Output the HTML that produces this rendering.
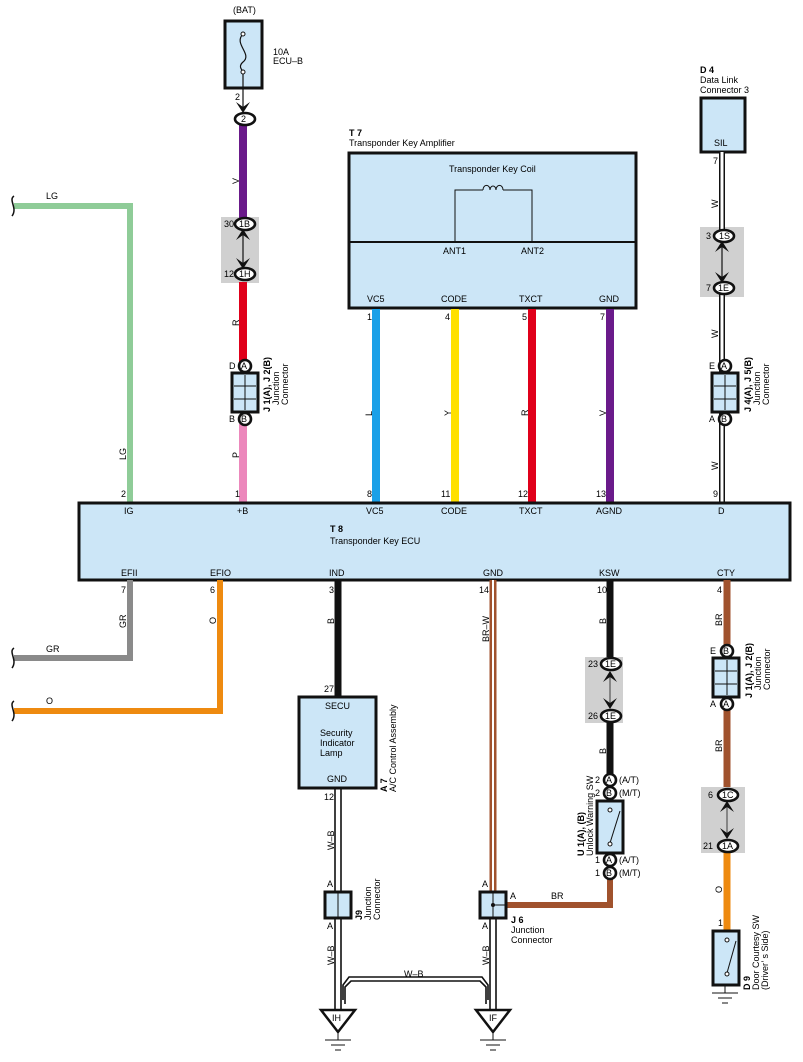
<!DOCTYPE html>
<html><head><meta charset="utf-8"><style>
html,body{margin:0;padding:0;background:#fff}
svg{display:block;font-family:"Liberation Sans",sans-serif;font-size:9px}
.b{fill:#cce6f7;stroke:#111;stroke-width:3}
.o{fill:#fff;stroke:#111;stroke-width:2.6}
.g{fill:#d0d0d0}
</style></head><body>
<svg width="803" height="1062" viewBox="0 0 803 1062">
<rect class="g" x="221" y="217" width="38" height="66"/>
<rect class="g" x="700" y="227" width="44" height="70"/>
<rect class="g" x="585" y="657" width="38" height="66"/>
<rect class="g" x="701" y="787" width="44" height="66"/>

<text x="233" y="13">(BAT)</text>
<rect class="b" x="225" y="21" width="37" height="67"/>
<path d="M243 34 C233 44 253 54 243 62 C236 68 246 72 243 74" fill="none" stroke="#111" stroke-width="1.2"/>
<circle cx="243" cy="34" r="2" fill="#fff" stroke="#111"/><circle cx="243" cy="72" r="2" fill="#fff" stroke="#111"/>
<text x="273" y="55">10A</text><text x="273" y="64">ECU–B</text>
<line x1="243" y1="74" x2="243" y2="110" stroke="#111" stroke-width="1.2"/>
<text x="235" y="100">2</text>
<path d="M236 102 L243 113 L250 102 L243 107Z" fill="#111"/>

<line x1="243" y1="125" x2="243" y2="218" stroke="#6a1a8a" stroke-width="8"/>
<line x1="243" y1="282" x2="243" y2="362" stroke="#e0001a" stroke-width="8"/>
<line x1="243" y1="424" x2="243" y2="502" stroke="#ec88bc" stroke-width="8"/>
<line x1="243" y1="230" x2="243" y2="268" stroke="#111" stroke-width="1.2"/>
<path d="M236 240 L243 229 L250 240 L243 235Z M236 258 L243 269 L250 258 L243 263Z" fill="#111"/>
<ellipse class="o" cx="245" cy="119" rx="10" ry="6"/><text x="241" y="122">2</text>
<ellipse class="o" cx="245" cy="224" rx="10" ry="6"/><text x="239" y="227">1B</text><text x="224" y="227">30</text>
<ellipse class="o" cx="245" cy="274" rx="10" ry="6"/><text x="239" y="277">1H</text><text x="224" y="277">12</text>
<text transform="translate(239,184) rotate(-90)">V</text>
<text transform="translate(239,326) rotate(-90)">R</text>
<text transform="translate(239,458) rotate(-90)">P</text>
<circle class="o" cx="245" cy="366" r="6"/><text x="241" y="369">A</text><text x="229" y="369">D</text>
<rect class="b" x="232" y="373" width="26" height="39"/>
<path d="M245 375V410M234 386H256M234 399H256" stroke="#111" stroke-width="1"/>
<circle class="o" cx="245" cy="419" r="6"/><text x="241" y="422">B</text><text x="229" y="422">B</text>
<text transform="translate(270,412) rotate(-90)" font-weight="bold">J 1(A), J 2(B)</text>
<text transform="translate(279,405) rotate(-90)">Junction</text>
<text transform="translate(288,405) rotate(-90)">Connector</text>

<path d="M14 206 H130 V502" fill="none" stroke="#8fcc98" stroke-width="6"/>
<path d="M14 196 C8 200 18 208 12 216" fill="none" stroke="#111" stroke-width="1.5"/>
<text x="46" y="199">LG</text>
<text transform="translate(126,460) rotate(-90)">LG</text>

<text x="349" y="136" font-weight="bold">T 7</text>
<text x="349" y="146">Transponder Key Amplifier</text>
<rect class="b" x="349" y="153" width="287" height="155"/>
<line x1="349" y1="242" x2="636" y2="242" stroke="#111" stroke-width="2"/>
<text x="449" y="172">Transponder Key Coil</text>
<path d="M455 242V190H483M503 190H532V242" fill="none" stroke="#111" stroke-width="1"/>
<path d="M483 190 a3 4 0 0 1 7 0 a3 4 0 0 1 6 0 a3 4 0 0 1 7 0" fill="none" stroke="#111" stroke-width="1"/>
<text x="443" y="254">ANT1</text><text x="521" y="254">ANT2</text>
<text x="367" y="302">VC5</text><text x="441" y="302">CODE</text><text x="519" y="302">TXCT</text><text x="599" y="302">GND</text>
<line x1="376" y1="309" x2="376" y2="502" stroke="#1aa0e8" stroke-width="8"/>
<line x1="455" y1="309" x2="455" y2="502" stroke="#ffe000" stroke-width="8"/>
<line x1="532" y1="309" x2="532" y2="502" stroke="#e0001a" stroke-width="8"/>
<line x1="610" y1="309" x2="610" y2="502" stroke="#6a1a8a" stroke-width="8"/>
<text x="367" y="320">1</text><text x="445" y="320">4</text><text x="522" y="320">5</text><text x="600" y="320">7</text>
<text transform="translate(372,416) rotate(-90)">L</text>
<text transform="translate(451,416) rotate(-90)">Y</text>
<text transform="translate(528,416) rotate(-90)">R</text>
<text transform="translate(606,416) rotate(-90)">V</text>

<text x="700" y="73" font-weight="bold">D 4</text>
<text x="700" y="83">Data Link</text><text x="700" y="93">Connector 3</text>
<rect class="b" x="701" y="98" width="44" height="54"/>
<text x="714" y="146">SIL</text>
<line x1="722" y1="152" x2="722" y2="502" stroke="#111" stroke-width="6"/>
<line x1="722" y1="152" x2="722" y2="502" stroke="#fff" stroke-width="3"/>
<text x="713" y="164">7</text>
<rect x="719" y="242" width="6" height="40" fill="#d0d0d0"/>
<line x1="722" y1="242" x2="722" y2="282" stroke="#111" stroke-width="1.2"/>
<path d="M715 252 L722 241 L729 252 L722 247Z M715 272 L722 283 L729 272 L722 277Z" fill="#111"/>
<ellipse class="o" cx="724" cy="236" rx="10" ry="6"/><text x="719" y="239">1S</text><text x="706" y="239">3</text>
<ellipse class="o" cx="724" cy="288" rx="10" ry="6"/><text x="718" y="291">1E</text><text x="706" y="291">7</text>
<text transform="translate(718,208) rotate(-90)">W</text>
<text transform="translate(718,338) rotate(-90)">W</text>
<text transform="translate(718,470) rotate(-90)">W</text>
<circle class="o" cx="725" cy="366" r="6"/><text x="721" y="369">A</text><text x="709" y="369">E</text>
<rect class="b" x="712" y="373" width="26" height="39"/>
<path d="M725 375V410M714 386H736M714 399H736" stroke="#111" stroke-width="1"/>
<circle class="o" cx="725" cy="419" r="6"/><text x="721" y="422">B</text><text x="709" y="422">A</text>
<text transform="translate(751,412) rotate(-90)" font-weight="bold">J 4(A), J 5(B)</text>
<text transform="translate(760,405) rotate(-90)">Junction</text>
<text transform="translate(769,405) rotate(-90)">Connector</text>

<rect class="b" x="79" y="503" width="711" height="77" stroke-width="2"/>
<text x="121" y="497">2</text><text x="235" y="497">1</text><text x="367" y="497">8</text><text x="441" y="497">11</text><text x="518" y="497">12</text><text x="596" y="497">13</text><text x="713" y="497">9</text>
<text x="124" y="514">IG</text><text x="237" y="514">+B</text><text x="366" y="514">VC5</text><text x="441" y="514">CODE</text><text x="519" y="514">TXCT</text><text x="596" y="514">AGND</text><text x="718" y="514">D</text>
<text x="330" y="532" font-weight="bold">T 8</text>
<text x="330" y="544">Transponder Key ECU</text>
<text x="121" y="576">EFII</text><text x="210" y="576">EFIO</text><text x="329" y="576">IND</text><text x="483" y="576">GND</text><text x="599" y="576">KSW</text><text x="717" y="576">CTY</text>
<text x="121" y="593">7</text><text x="210" y="593">6</text><text x="329" y="593">3</text><text x="479" y="593">14</text><text x="597" y="593">10</text><text x="717" y="593">4</text>

<path d="M14 658 H130 V580" fill="none" stroke="#8a8a8a" stroke-width="6"/>
<path d="M14 648 C8 652 18 660 12 668" fill="none" stroke="#111" stroke-width="1.5"/>
<text x="46" y="652">GR</text>
<text transform="translate(126,628) rotate(-90)">GR</text>
<path d="M14 711 H220 V580" fill="none" stroke="#ee8a10" stroke-width="6"/>
<path d="M14 701 C8 705 18 713 12 721" fill="none" stroke="#111" stroke-width="1.5"/>
<text x="46" y="704">O</text>
<text transform="translate(216,624) rotate(-90)">O</text>

<line x1="338" y1="580" x2="338" y2="697" stroke="#111" stroke-width="7"/>
<text transform="translate(334,624) rotate(-90)">B</text>
<text x="324" y="692">27</text>
<rect class="b" x="299" y="697" width="77" height="91"/>
<text x="325" y="709">SECU</text>
<text x="320" y="736">Security</text><text x="320" y="746">Indicator</text><text x="320" y="756">Lamp</text>
<text x="327" y="782">GND</text>
<text transform="translate(387,792) rotate(-90)" font-weight="bold">A 7</text>
<text transform="translate(396,792) rotate(-90)">A/C Control Assembly</text>
<text x="324" y="800">12</text>
<g stroke="#111" stroke-width="1.6" fill="none">
<path d="M335 789V1010M341 789V1010"/>
<path d="M490 918V1010M496 918V1010"/>
<path d="M343 1000V985L349 977H482L488 985V1000"/>
<path d="M345 1004V987L351 981H480L486 987V1004"/>
</g>
<line x1="493" y1="580" x2="493" y2="891" stroke="#a0522d" stroke-width="7"/>
<line x1="493" y1="580" x2="493" y2="891" stroke="#fff" stroke-width="2"/>
<text transform="translate(334,850) rotate(-90)">W–B</text>
<text transform="translate(334,965) rotate(-90)">W–B</text>
<text transform="translate(489,965) rotate(-90)">W–B</text>
<text x="404" y="977">W–B</text>
<text transform="translate(489,642) rotate(-90)">BR–W</text>
<text x="327" y="887">A</text><text x="327" y="929">A</text>
<rect class="b" x="325" y="892" width="26" height="26"/>
<line x1="338" y1="893" x2="338" y2="917" stroke="#111"/>
<text transform="translate(362,920) rotate(-90)" font-weight="bold">J9</text>
<text transform="translate(371,920) rotate(-90)">Junction</text>
<text transform="translate(380,920) rotate(-90)">Connector</text>
<path d="M507 905H610V873" fill="none" stroke="#a0522d" stroke-width="6"/>
<text x="482" y="887">A</text><text x="482" y="929">A</text>
<rect class="b" x="480" y="892" width="26" height="26"/>
<path d="M493 893V917M493 905H507" stroke="#111"/><circle cx="493" cy="905" r="2" fill="#111"/>
<text x="510" y="899">A</text><text x="551" y="899">BR</text>
<text x="511" y="923" font-weight="bold">J 6</text>
<text x="511" y="933">Junction</text><text x="511" y="943">Connector</text>
<g stroke="#111" stroke-width="2.5" fill="#fff">
<path d="M321 1010H355L338 1032Z"/><path d="M476 1010H510L493 1032Z"/>
</g>
<text x="332" y="1021">IH</text><text x="489" y="1021">IF</text>
<g stroke="#111" stroke-width="1">
<path d="M338 1032V1040M325 1040H351M331 1045H345M335 1050H341"/>
<path d="M493 1032V1040M480 1040H506M486 1045H500M490 1050H496"/>
<path d="M725 985V993M712 993H738M718 998H732M722 1003H728"/>
</g>

<line x1="610" y1="580" x2="610" y2="657" stroke="#111" stroke-width="7"/>
<line x1="610" y1="722" x2="610" y2="775" stroke="#111" stroke-width="7"/>
<text transform="translate(606,624) rotate(-90)">B</text>
<text transform="translate(606,754) rotate(-90)">B</text>
<line x1="610" y1="672" x2="610" y2="708" stroke="#555" stroke-width="1.2"/>
<path d="M603 682 L610 671 L617 682 L610 677Z M603 698 L610 709 L617 698 L610 703Z" fill="#111"/>
<ellipse class="o" cx="611" cy="664" rx="10" ry="6"/><text x="605" y="667">1E</text><text x="588" y="667">23</text>
<ellipse class="o" cx="611" cy="716" rx="10" ry="6"/><text x="605" y="719">1E</text><text x="588" y="719">26</text>
<circle class="o" cx="610" cy="780" r="6"/><text x="606" y="783">A</text><text x="595" y="783">2</text><text x="619" y="783">(A/T)</text>
<circle class="o" cx="610" cy="793" r="6"/><text x="606" y="796">B</text><text x="595" y="796">2</text><text x="619" y="796">(M/T)</text>
<rect class="b" x="597" y="801" width="26" height="52"/>
<path d="M610 843L620 811" stroke="#111" stroke-width="1"/>
<circle cx="610" cy="810" r="2" fill="#fff" stroke="#111"/><circle cx="610" cy="844" r="2" fill="#fff" stroke="#111"/>
<circle class="o" cx="610" cy="860" r="6"/><text x="606" y="863">A</text><text x="595" y="863">1</text><text x="619" y="863">(A/T)</text>
<circle class="o" cx="610" cy="873" r="6"/><text x="606" y="876">B</text><text x="595" y="876">1</text><text x="619" y="876">(M/T)</text>
<text transform="translate(584,856) rotate(-90)" font-weight="bold">U 1(A), (B)</text>
<text transform="translate(593,856) rotate(-90)">Unlock Warning SW</text>

<line x1="727" y1="580" x2="727" y2="645" stroke="#a0522d" stroke-width="7"/>
<line x1="727" y1="710" x2="727" y2="787" stroke="#a0522d" stroke-width="7"/>
<line x1="727" y1="852" x2="727" y2="930" stroke="#ee8a10" stroke-width="7"/>
<text transform="translate(722,626) rotate(-90)">BR</text>
<text transform="translate(722,752) rotate(-90)">BR</text>
<text transform="translate(722,893) rotate(-90)">O</text>
<circle class="o" cx="727" cy="651" r="6"/><text x="723" y="654">B</text><text x="710" y="654">E</text>
<rect class="b" x="713" y="658" width="26" height="39"/>
<path d="M727 660V695M715 671H737M715 684H737" stroke="#111" stroke-width="1"/>
<circle class="o" cx="727" cy="704" r="6"/><text x="723" y="707">A</text><text x="710" y="707">A</text>
<text transform="translate(752,698) rotate(-90)" font-weight="bold">J 1(A), J 2(B)</text>
<text transform="translate(761,690) rotate(-90)">Junction</text>
<text transform="translate(770,690) rotate(-90)">Connector</text>
<line x1="727" y1="802" x2="727" y2="838" stroke="#555" stroke-width="1.2"/>
<path d="M720 812 L727 801 L734 812 L727 807Z M720 828 L727 839 L734 828 L727 833Z" fill="#111"/>
<ellipse class="o" cx="728" cy="795" rx="10" ry="6"/><text x="722" y="798">1C</text><text x="708" y="798">6</text>
<ellipse class="o" cx="728" cy="846" rx="10" ry="6"/><text x="722" y="849">1A</text><text x="703" y="849">21</text>
<text x="718" y="926">1</text>
<rect class="b" x="713" y="931" width="26" height="54"/>
<path d="M727 973L736 941" stroke="#111" stroke-width="1"/>
<circle cx="727" cy="940" r="2" fill="#fff" stroke="#111"/><circle cx="727" cy="974" r="2" fill="#fff" stroke="#111"/>
<text transform="translate(750,990) rotate(-90)" font-weight="bold">D 9</text>
<text transform="translate(759,990) rotate(-90)">Door Courtesy SW</text>
<text transform="translate(768,990) rotate(-90)">(Driver’ s Side)</text>
</svg>
</body></html>
